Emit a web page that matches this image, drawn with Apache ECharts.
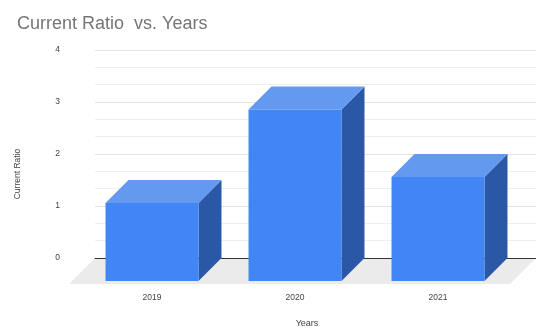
<!DOCTYPE html>
<html>
<head>
<meta charset="utf-8">
<script src="https://cdn.jsdelivr.net/npm/echarts@6/dist/echarts.min.js"></script>
<style>html,body{margin:0;padding:0;background:#fff;}#c{width:536px;height:330px;}</style>
</head>
<body>
<div id="c"></div>
<script>
const categories = ['2019', '2020', '2021'];
const values = [1.5, 3.3, 2.0];
const yMin = 0, yMax = 4, yInterval = 1;
const titleText = 'Current Ratio  vs. Years';
const xName = 'Years';
const yName = 'Current Ratio';

const FONT = 'Arial, "Liberation Sans", sans-serif';
const DEPTH = 23;       // bar depth offset (px)
const FLOOR_DEPTH = 26; // floor depth offset (px)

const chart = echarts.init(document.getElementById('c'), null, {renderer: 'canvas'});

const option = {
  animation: false,
  backgroundColor: '#fff',
  title: {
    text: titleText, left: 12, top: 10,
    textStyle: {fontFamily: FONT, fontSize: 18, fontWeight: 'normal', color: '#757575'}
  },
  grid: [
    {left: 95, top: 50, width: 441, height: 208},   // back plane
    {left: 80.5, top: 73, width: 429, height: 208}  // front plane
  ],
  xAxis: [
    {type: 'category', gridIndex: 0, data: categories,
     axisLine: {show: true, lineStyle: {color: '#333', width: 1}},
     axisTick: {show: false}, axisLabel: {show: false}, splitLine: {show: false}},
    {type: 'category', gridIndex: 1, data: categories,
     axisLine: {show: false}, axisTick: {show: false},
     axisLabel: {show: true, margin: 12, fontFamily: FONT, fontSize: 8.5, color: '#444'}}
  ],
  yAxis: [
    {type: 'value', gridIndex: 0, min: yMin, max: yMax, interval: yInterval,
     axisLine: {show: false}, axisTick: {show: false},
     axisLabel: {margin: 35, fontFamily: FONT, fontSize: 8.5, color: '#444'},
     splitLine: {show: true, lineStyle: {color: '#e2e2e2', width: 1}},
     minorTick: {show: false, splitNumber: 3},
     minorSplitLine: {show: true, lineStyle: {color: '#efefef', width: 1}}},
    {type: 'value', gridIndex: 1, min: yMin, max: yMax, interval: yInterval, show: false,
     splitLine: {show: false}}
  ],
  graphic: [
    {type: 'text', rotation: Math.PI / 2, x: 18, y: 174,
     style: {text: yName, fontFamily: FONT, fontSize: 8.5, fill: '#444', align: 'center', verticalAlign: 'middle'}},
    {type: 'text', x: 307, y: 324,
     style: {text: xName, fontFamily: FONT, fontSize: 9, fill: '#444', align: 'center', verticalAlign: 'middle'}}
  ],
  series: [
    {
      type: 'custom', name: 'floor', xAxisIndex: 0, yAxisIndex: 0, z: -1,
      data: [[0, 0]], silent: true,
      renderItem: function (params, api) {
        const cs = params.coordSys;
        const by = cs.y + cs.height;
        const lx = cs.x, rx = cs.x + cs.width;
        return {
          type: 'polygon',
          shape: {points: [[lx, by], [rx, by], [rx - FLOOR_DEPTH, by + FLOOR_DEPTH], [lx - FLOOR_DEPTH, by + FLOOR_DEPTH]]},
          style: {fill: '#ebebeb'}
        };
      }
    },
    {
      type: 'custom', name: 'Current Ratio', xAxisIndex: 1, yAxisIndex: 1, z: 3,
      data: values.map((v, i) => [i, v]),
      renderItem: function (params, api) {
        const i = api.value(0), v = api.value(1);
        const top = api.coord([i, v]);
        const base = api.coord([i, 0]);
        const w = api.size([1, 0])[0] * 0.65;
        const l = top[0] - w / 2, r = top[0] + w / 2;
        const t = top[1], b = base[1], d = DEPTH;
        return {
          type: 'group',
          children: [
            {type: 'polygon', shape: {points: [[r, t], [r + d, t - d], [r + d, b - d], [r, b]]},
             style: {fill: '#2b58a6'}},
            {type: 'polygon', shape: {points: [[l, t], [l + d, t - d], [r + d, t - d], [r, t]]},
             style: {fill: '#6399ef'}},
            {type: 'rect', shape: {x: l, y: t, width: w, height: b - t},
             style: {fill: '#4285f4'}}
          ]
        };
      }
    }
  ]
};
chart.setOption(option);
</script>
</body>
</html>
